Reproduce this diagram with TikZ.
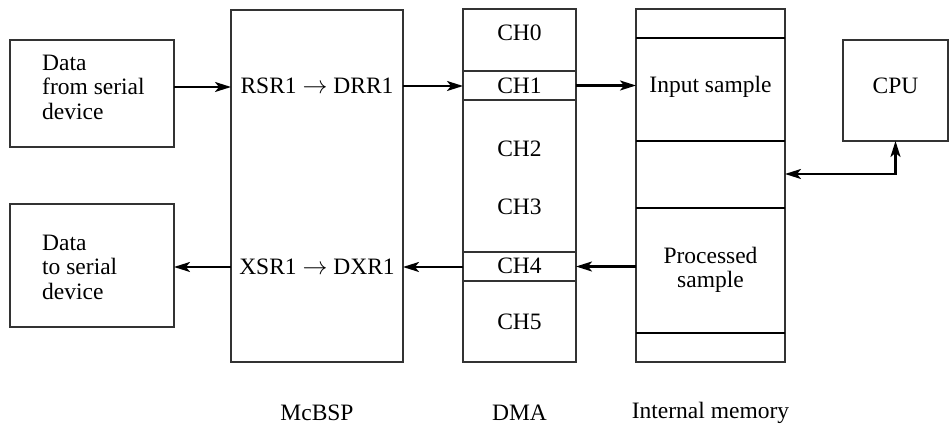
\documentclass[tikz,border=0pt]{standalone}
\usepackage{fontspec}
\setmainfont{Liberation Serif}
\usetikzlibrary{arrows.meta}
\begin{document}
\begin{tikzpicture}[x=1pt,y=-1pt,
 box/.style={draw=black!80,line width=1.3pt,inner sep=0pt,outer sep=0pt},
 lbl/.style={font=\fontsize{23.5}{24.5}\selectfont,inner sep=0pt},
 divider/.style={draw=black,line width=1.8pt},
 conn/.style={draw=black,line width=2.2pt,-{Stealth[length=16pt,width=10pt,inset=4pt]}},
 conn2/.style={draw=black,line width=2.2pt,{Stealth[length=16pt,width=10pt,inset=4pt]}-{Stealth[length=16pt,width=10pt,inset=4pt]}},
]
\useasboundingbox (0,0) rectangle (951,430);
% source / sink boxes
\node[box,minimum width=164pt,minimum height=107pt] (src) at (92,93.5) {};
\node[lbl,align=left,anchor=west] (srct) at (42,87) {Data\\from serial\\device};
\node[box,minimum width=164pt,minimum height=123pt] (snk) at (92,265.5) {};
\node[lbl,align=left,anchor=west] (snkt) at (42,267) {Data\\to serial\\device};
% McBSP
\node[box,minimum width=172pt,minimum height=352pt] (mcbsp) at (317,186) {};
\node[lbl] (rsr) at (317,86) {RSR1 $\rightarrow$ DRR1};
\node[lbl] (xsr) at (317,267) {XSR1 $\rightarrow$ DXR1};
% DMA
\node[box,minimum width=113pt,minimum height=353pt] (dma) at (519.5,185.5) {};
\node[box,minimum width=113pt,minimum height=29pt] (ch1) at (519.5,85.5) {};
\node[box,minimum width=113pt,minimum height=29pt] (ch4) at (519.5,266.5) {};
\node[lbl] (ch0t) at (519.5,33) {CH0};
\node[lbl] (ch1t) at (519.5,86) {CH1};
\node[lbl] (ch2t) at (519.5,149) {CH2};
\node[lbl] (ch3t) at (519.5,207) {CH3};
\node[lbl] (ch4t) at (519.5,266) {CH4};
\node[lbl] (ch5t) at (519.5,322) {CH5};
% Memory
\node[box,minimum width=149pt,minimum height=353pt] (mem) at (710.5,185.5) {};
\coordinate (d1) at (636,38);
\coordinate (d2) at (636,141);
\coordinate (d3) at (636,208);
\coordinate (d4) at (636,333);
\draw[divider] (d1) -- (d1 -| mem.east);
\draw[divider] (d2) -- (d2 -| mem.east);
\draw[divider] (d3) -- (d3 -| mem.east);
\draw[divider] (d4) -- (d4 -| mem.east);
\node[lbl] (inp) at (710.5,87) {Input sample};
\node[lbl,align=center] (proc) at (710.5,270) {Processed\\sample};
% CPU
\node[box,minimum width=105pt,minimum height=101pt] (cpu) at (895.5,90.5) {};
\node[lbl] (cput) at (895.5,86) {CPU};
% connectors
\draw[conn] (src.east |- srct) -- (srct -| mcbsp.west);
\draw[conn] (mcbsp.east |- rsr) -- (rsr -| dma.west);
\draw[conn] (ch1.east) -- (ch1.east -| mem.west);
\draw[conn] (ch4.east -| mem.west) -- (ch4.east);
\draw[conn] (xsr -| dma.west) -- (xsr -| mcbsp.east);
\draw[conn] (snkt -| mcbsp.west) -- (snkt -| snk.east);
\coordinate (cpuj) at (895.5,174);
\draw[conn2] (cpu.south) |- (cpuj -| mem.east);
% labels
\node[lbl] (l1) at (317,413) {McBSP};
\node[lbl] (l2) at (519.5,413) {DMA};
\node[lbl] (l3) at (710.5,413) {Internal memory};
\end{tikzpicture}
\end{document}
